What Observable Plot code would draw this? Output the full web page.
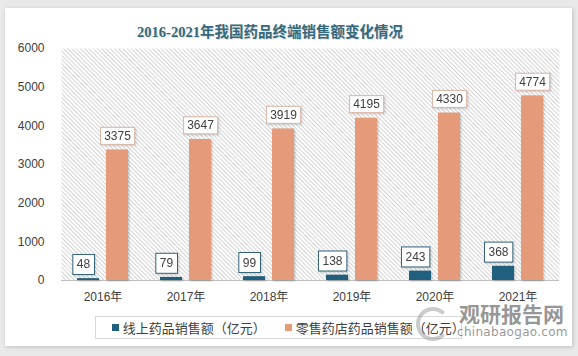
<!DOCTYPE html>
<html><head><meta charset="utf-8">
<script src="https://cdn.jsdelivr.net/npm/d3@7"></script>
<script src="https://cdn.jsdelivr.net/npm/@observablehq/plot@0.6"></script>
<style>
html,body{margin:0;padding:0;background:#e9e9e9;width:578px;height:356px;overflow:hidden;}
#card{position:absolute;left:5px;top:8px;width:567px;height:338px;background:#fff;box-shadow:1px 1px 4px rgba(0,0,0,0.18);}
#title{position:absolute;left:0;width:540px;top:23px;line-height:18px;text-align:center;font-weight:bold;font-size:14.5px;font-family:"Liberation Serif","Noto Sans CJK SC",serif;color:#356a7c;text-shadow:1px 1px 1px rgba(0,0,0,0.15);}
#chart{position:absolute;left:0;top:0;}
#legend{position:absolute;left:95px;top:316px;width:367px;height:23px;border:1px solid #d9d9d9;background:#fff;display:flex;align-items:center;font-size:13px;font-family:"Noto Sans CJK SC",sans-serif;color:#404040;box-sizing:border-box;}
#legend .item{display:flex;align-items:center;}
#legend .sw{width:7px;height:7px;margin-right:4px;}
#wm1{position:absolute;left:459px;top:300px;font-weight:bold;font-size:21px;font-family:"Noto Sans CJK SC",sans-serif;color:rgba(110,110,110,0.72);line-height:26px;}
#wm2{position:absolute;left:457px;top:325px;font-size:12px;font-family:"DejaVu Sans",sans-serif;color:rgba(110,110,110,0.72);letter-spacing:0.3px;line-height:14px;}
#logo{position:absolute;left:416px;top:307px;width:26px;height:26px;border-radius:50%;border:4px solid rgba(140,140,140,0.45);border-right-color:transparent;}
</style>
</head><body>
<div id="card"></div>
<div id="title"></div>
<div id="chart"></div>
<div id="legend"></div>
<div id="logo"></div>
<div id="wm1">观研报告网</div>
<div id="wm2">chinabaogao.com</div>
<script>
const titleText = "2016-2021年我国药品终端销售额变化情况";
const years = ["2016","2017","2018","2019","2020","2021"];
const online = [48, 79, 99, 138, 243, 368];
const retail = [3375, 3647, 3919, 4195, 4330, 4774];
const seriesKeys = ["online", "retail"];
const seriesNames = ["线上药品销售额（亿元）", "零售药店药品销售额（亿元）"];
const seriesColors = ["#215f7e", "#e59a79"];
const labelBorders = ["#33657a", "#d9b6a6"];
const yTicks = [0, 1000, 2000, 3000, 4000, 5000, 6000];

document.getElementById("title").textContent = titleText;

const data = years.flatMap((yr, i) => [
  {year: yr, key: "online", value: online[i]},
  {year: yr, key: "retail", value: retail[i]}
]);

const chart = Plot.plot({
  width: 578, height: 310,
  marginLeft: 60, marginRight: 19, marginTop: 48, marginBottom: 30,
  style: {background: "transparent", fontFamily: '"Liberation Sans","Noto Sans CJK SC",sans-serif', fontSize: "12px", color: "#404040"},
  fx: {domain: years, padding: 0, tickSize: 0, tickPadding: 12, tickFormat: d => d + "年", label: null},
  x: {domain: seriesKeys, axis: null, paddingInner: 0.25, paddingOuter: 0.53},
  y: {domain: [0, 6000], ticks: yTicks, tickFormat: d => String(d), tickSize: 0, tickPadding: 17, label: null},
  color: {domain: seriesKeys, range: seriesColors},
  marks: [
    Plot.frame({fill: "url(#hatch)", stroke: "none", facet: "super"}),
    Plot.ruleY([0], {stroke: "#bfbfbf", strokeWidth: 1}),
    Plot.barY(data, {fx: "year", x: "key", y: "value", fill: "key", ariaDescription: "bars"}),
    Plot.text(data.filter(d => d.key === "online"), {fx: "year", x: "key", y: "value", text: d => String(d.value), dy: -14, dx: -5, fill: "#404040", fontSize: 12, ariaDescription: "online-labels"}),
    Plot.text(data.filter(d => d.key === "retail"), {fx: "year", x: "key", y: "value", text: d => String(d.value), dy: -14, fill: "#404040", fontSize: 12, ariaDescription: "retail-labels"})
  ]
});

document.getElementById("chart").appendChild(chart);
const svg = chart.tagName.toLowerCase() === "svg" ? chart : chart.querySelector("svg");
const NS = "http://www.w3.org/2000/svg";
const defs = document.createElementNS(NS, "defs");
defs.innerHTML = '<pattern id="hatch" patternUnits="userSpaceOnUse" width="3" height="3" patternTransform="rotate(-45)"><rect width="3" height="3" fill="#ffffff"/><path d="M1.5,0V3" stroke="#d4d4d4" stroke-width="1"/></pattern>';
svg.insertBefore(defs, svg.firstChild);

svg.querySelectorAll('g[aria-description="bars"]').forEach(g => {
  g.style.filter = "drop-shadow(1.5px 1px 1px rgba(0,0,0,0.25))";
});

function boxLabels(desc, stroke, padX, padY) {
  svg.querySelectorAll(`g[aria-description="${desc}"] text`).forEach(t => {
    const bb = t.getBBox();
    const r = document.createElementNS(NS, "rect");
    r.setAttribute("x", bb.x - padX);
    r.setAttribute("y", bb.y - padY);
    r.setAttribute("width", bb.width + 2 * padX);
    r.setAttribute("height", bb.height + 2 * padY);
    const tr = t.getAttribute("transform");
    if (tr) r.setAttribute("transform", tr);
    r.setAttribute("fill", "#ffffff");
    r.setAttribute("stroke", stroke);
    r.setAttribute("stroke-width", "1");
    r.style.filter = "drop-shadow(1px 1px 1px rgba(0,0,0,0.18))";
    t.parentNode.insertBefore(r, t);
  });
}
boxLabels("online-labels", labelBorders[0], 4, 3);
boxLabels("retail-labels", labelBorders[1], 3.5, 1.5);

const legend = document.getElementById("legend");
seriesNames.forEach((name, i) => {
  const item = document.createElement("div");
  item.className = "item";
  item.style.marginLeft = i === 0 ? "16px" : "22px";
  const sw = document.createElement("div");
  sw.className = "sw";
  sw.style.background = seriesColors[i];
  const tx = document.createElement("span");
  tx.textContent = name;
  item.appendChild(sw); item.appendChild(tx);
  legend.appendChild(item);
});
</script>
</body></html>
